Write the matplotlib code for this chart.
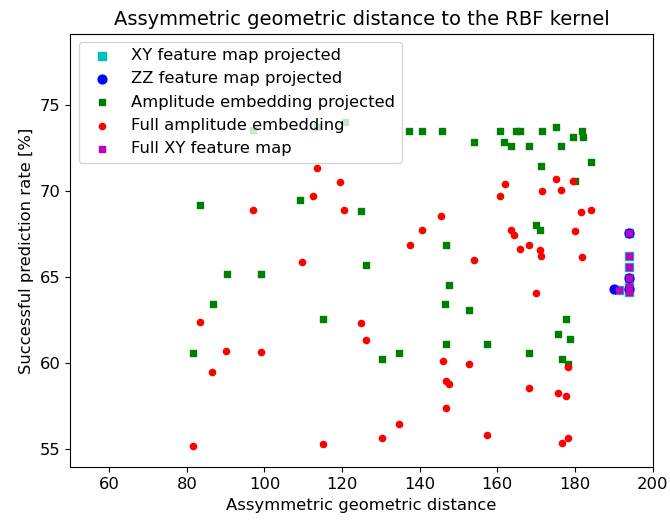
import matplotlib
matplotlib.use("Agg")
import matplotlib.pyplot as plt

plt.rcParams['font.size'] = 11.8

# XY feature map projected
xy_proj_x = [193.9, 193.9, 193.9, 193.9, 193.9, 193.9, 191.3]
xy_proj_y = [67.54, 66.24, 65.57, 64.93, 64.40, 64.15, 64.25]

# ZZ feature map projected
zz_proj_x = [193.9, 193.9, 190.2, 193.9]
zz_proj_y = [67.54, 64.93, 64.29, 64.29]

# Amplitude embedding projected
amp_proj_x = [83.5, 90.4, 99.0, 109.2, 124.9, 146.8, 126.1, 120.7, 137.3, 140.7,
              145.8, 154.0, 160.7, 161.8, 163.6, 164.8, 165.8, 168.2, 171.6, 175.2,
              176.4, 179.5, 181.9, 182.2, 184.2, 171.2, 180.1, 170.1, 170.9, 147.6,
              146.4, 152.8, 177.6, 175.6, 178.7, 146.7, 157.4, 168.2, 176.8, 178.2,
              115.0, 130.4, 134.7, 86.7, 81.5, 97.0, 113.5]
amp_proj_y = [69.17, 65.16, 65.16, 69.46, 68.84, 66.86, 65.70, 74.00, 73.47, 73.47,
              73.47, 72.86, 73.47, 72.86, 72.59, 73.47, 73.47, 72.59, 73.47, 73.73,
              72.59, 73.14, 73.47, 73.14, 71.70, 71.43, 70.60, 68.00, 67.74, 64.54,
              63.46, 63.11, 62.55, 61.68, 61.41, 61.13, 61.13, 60.59, 60.24, 59.97,
              62.55, 60.24, 60.59, 63.44, 60.59, 73.54, 73.73]

# Full amplitude embedding
amp_full_x = [97.1, 113.5, 119.5, 112.6, 120.5, 145.5, 140.7, 137.4, 109.6, 161.9,
              160.7, 175.2, 179.5, 171.6, 176.4, 181.5, 184.2, 163.6, 164.3, 180.1,
              165.8, 168.2, 170.9, 171.2, 181.9, 154.0, 169.9, 178.3, 146.1, 152.8,
              146.7, 147.6, 168.2, 175.6, 177.7, 146.7, 157.4, 178.3, 176.8, 124.9,
              126.1, 134.7, 130.4, 115.0, 83.5, 90.2, 99.0, 86.6, 81.7]
amp_full_y = [68.90, 71.34, 70.54, 69.71, 68.90, 68.57, 67.74, 66.86, 65.90, 70.41,
              69.71, 70.68, 70.60, 70.00, 70.06, 68.76, 68.90, 67.75, 67.46, 67.68,
              66.65, 66.86, 66.60, 66.24, 66.17, 65.97, 64.06, 59.76, 60.13, 59.97,
              58.97, 58.81, 58.54, 58.25, 58.11, 57.38, 55.81, 55.67, 55.38, 62.35,
              61.33, 56.49, 55.67, 55.33, 62.41, 60.73, 60.65, 59.49, 55.19]

# Full XY feature map
xy_full_x = [193.9, 193.9, 193.9, 193.9, 193.9, 193.9, 191.3]
xy_full_y = [67.54, 66.24, 65.57, 64.93, 64.40, 64.15, 64.25]

fig = plt.figure(figsize=(6.7, 5.21), dpi=100)
ax = fig.add_axes([0.1052, 0.1031, 0.8687, 0.8326])

ax.scatter(xy_proj_x, xy_proj_y, c='c', marker='s', s=40, label='XY feature map projected')
ax.scatter(zz_proj_x, zz_proj_y, c='b', marker='o', s=40, label='ZZ feature map projected')
ax.scatter(amp_proj_x, amp_proj_y, c='g', marker='s', s=16, label='Amplitude embedding projected')
ax.scatter(amp_full_x, amp_full_y, c='r', marker='o', s=20, label='Full amplitude embedding')
ax.scatter(xy_full_x, xy_full_y, c='m', marker='s', s=18, label='Full XY feature map')

ax.set_xlim(50, 200)
ax.set_ylim(53.95, 79.15)
ax.set_xticks([60, 80, 100, 120, 140, 160, 180, 200])
ax.set_yticks([55, 60, 65, 70, 75])
ax.set_xlabel('Assymmetric geometric distance')
ax.set_ylabel('Successful prediction rate [%]')
ax.set_title('Assymmetric geometric distance to the RBF kernel', fontsize=14)
ax.legend(loc='upper left', scatterpoints=1)

fig.savefig('out.png', dpi=100)
